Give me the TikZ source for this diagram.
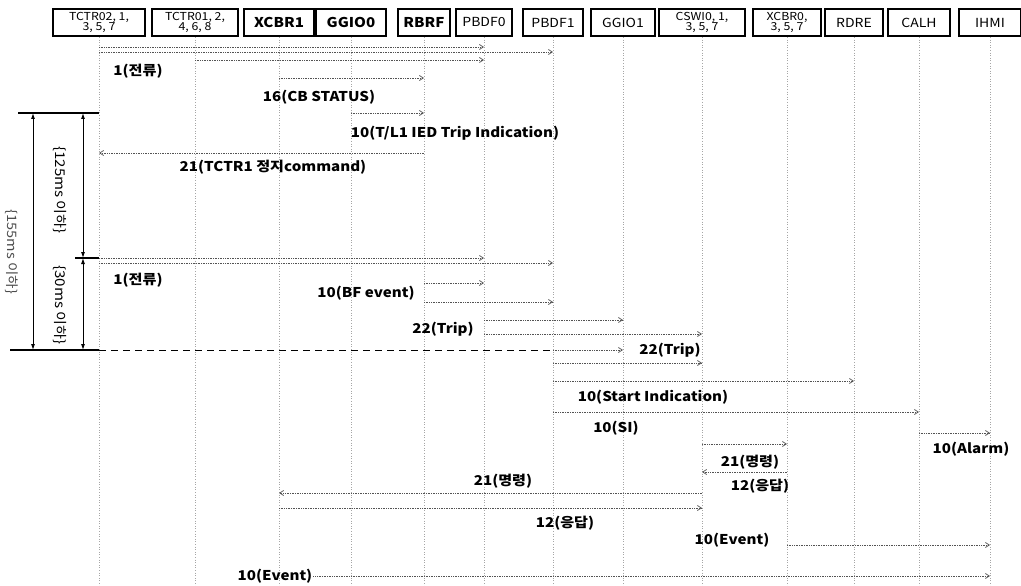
\documentclass[tikz,border=0pt]{standalone}
\usepackage{fontspec}
\setmainfont{Noto Sans CJK KR}
\newfontfamily\widefont[FakeStretch = 1.12]{Noto Sans CJK KR}
\usetikzlibrary{arrows.meta}

\newcommand{\msgline}[3]{\draw [msg] (#1 |- 0, #3) -- (#2 |- 0, #3);}

\begin{document}
\begin{tikzpicture}[x = 1pt, y = -1pt,
        obj/.style = {draw, line width = 2pt, minimum height = 27pt, inner sep = 0pt, align = center, font = \widefont\fontsize{11}{10.5}\selectfont},
        life/.style = {color = gray!70, dotted, line width = 0.6pt},
        msg/.style = {color = gray!65!black, densely dotted, line width = 0.7pt, -{Straight Barb[length = 4pt, width = 5pt]}},
        lbl/.style = {font = \widefont\fontsize{13.5}{14}\selectfont\bfseries, inner sep = 1pt},
        dim/.style = {line width = 0.9pt, {Latex[length = 6pt, width = 4pt]}-{Latex[length = 6pt, width = 4pt]}},
        bar/.style = {line width = 1.5pt}]

                \useasboundingbox (0, 0) rectangle (1021, 586);

                % objects
                \foreach \name/\x/\w/\txt in {tctr2/99/92/{TCTR02, 1,\\3, 5, 7}, tctr1/195/86/{TCTR01, 2,\\4, 6, 8},
                        xcbr1/279/70/{\bfseries\fontsize{13.5}{14}\selectfont XCBR1}, ggio0/351/70/{\bfseries\fontsize{13.5}{14}\selectfont GGIO0},
                        rbrf/424/52/{\bfseries\fontsize{13.5}{14}\selectfont RBRF}, pbdf0/484/56/{\fontsize{12.5}{13}\selectfont PBDF0},
                        pbdf1/553/60/{\fontsize{12.5}{13}\selectfont PBDF1}, ggio1/623/64/{\fontsize{12.5}{13}\selectfont GGIO1},
                        cswi0/702/86/{CSWI0, 1,\\3, 5, 7}, xcbr0/787/68/{XCBR0,\\3, 5, 7},
                        rdre/854/58/{\fontsize{12.5}{13}\selectfont RDRE}, calh/919/62/{\fontsize{12.5}{13}\selectfont CALH},
                        ihmi/990/62/{\fontsize{12.5}{13}\selectfont IHMI}}
                \node [obj, minimum width = \w pt] (\name) at (\x, 22.5) {\txt};

                \foreach \name in {tctr2, tctr1, xcbr1, ggio0, rbrf, pbdf0, pbdf1, ggio1, cswi0, xcbr0, rdre, calh, ihmi}
                \draw [life] (\name.south) -- (\name |- 0, 586);

                % time brackets
                \draw [bar] (18, 113) -- (tctr2 |- 0, 113);
                \draw [bar] (75, 258) -- (tctr2 |- 0, 258);
                \draw [bar] (10, 350) -- (tctr2 |- 0, 350);
                \draw [dim] (33, 113) -- (33, 350);
                \draw [dim] (83, 113) -- (83, 258);
                \draw [dim] (83, 258) -- (83, 350);
                \node [rotate = -90, color = gray!60!black, font = \widefont\fontsize{13}{13}\selectfont] (t155) at (12, 252) {\{155ms 이하\}};
                \node [rotate = -90, font = \widefont\fontsize{13.5}{14}\selectfont] (t125) at (60, 190) {\{125ms 이하\}};
                \node [rotate = -90, font = \widefont\fontsize{13.5}{14}\selectfont] (t30) at (60, 305) {\{30ms 이하\}};

                % first fault
                \msgline{tctr2}{pbdf0}{47}
                \msgline{tctr2}{pbdf1}{52}
                \msgline{tctr1}{pbdf0}{60}
                \node [lbl] (cur1) at (138, 71) {1(전류)};
                \msgline{xcbr1}{rbrf}{78}
                \node [lbl] (cbst) at (319, 97) {16(CB STATUS)};
                \msgline{ggio0}{rbrf}{113}
                \node [lbl] (trind) at (455, 133) {10(T/L1 IED Trip Indication)};
                \msgline{rbrf}{tctr2}{153}
                \node [lbl] (stop) at (273, 167) {21(TCTR1 정지command)};

                % second fault
                \msgline{tctr2}{pbdf0}{258}
                \msgline{tctr2}{pbdf1}{263}
                \node [lbl] (cur2) at (138, 280) {1(전류)};
                \msgline{rbrf}{pbdf0}{283}
                \msgline{rbrf}{pbdf1}{302}
                \node [lbl] (bfev) at (366, 293) {10(BF event)};
                \msgline{pbdf0}{ggio1}{320}
                \msgline{pbdf0}{cswi0}{334}
                \node [lbl] (trip1) at (443, 329) {22(Trip)};
                \draw [line width = 0.9pt, dash pattern = on 7pt off 5pt] (tctr2 |- 0, 350) -- (pbdf1 |- 0, 350);
                \msgline{pbdf1}{ggio1}{350}
                \node [lbl] (trip2) at (670, 350) {22(Trip)};
                \msgline{pbdf1}{cswi0}{363}
                \msgline{pbdf1}{rdre}{381}
                \node [lbl] (start) at (653, 397) {10(Start Indication)};
                \msgline{pbdf1}{calh}{412}
                \node [lbl] (si) at (616, 428) {10(SI)};
                \msgline{calh}{ihmi}{433}
                \node [lbl] (alarm) at (971, 449) {10(Alarm)};

                % control
                \msgline{cswi0}{xcbr0}{444}
                \node [lbl] (cmd1) at (750, 462) {21(명령)};
                \msgline{xcbr0}{cswi0}{472}
                \node [lbl] (ack1) at (760, 486) {12(응답)};
                \node [lbl] (cmd2) at (503, 481) {21(명령)};
                \msgline{cswi0}{xcbr1}{493}
                \msgline{xcbr1}{cswi0}{508}
                \node [lbl] (ack2) at (565, 523) {12(응답)};
                \node [lbl] (ev1) at (732, 540) {10(Event)};
                \msgline{xcbr0}{ihmi}{545}
                \node [lbl] (ev2) at (275, 576) {10(Event)};
                \draw [msg] (ev2.east) -- (ihmi |- ev2);
\end{tikzpicture}
\end{document}
